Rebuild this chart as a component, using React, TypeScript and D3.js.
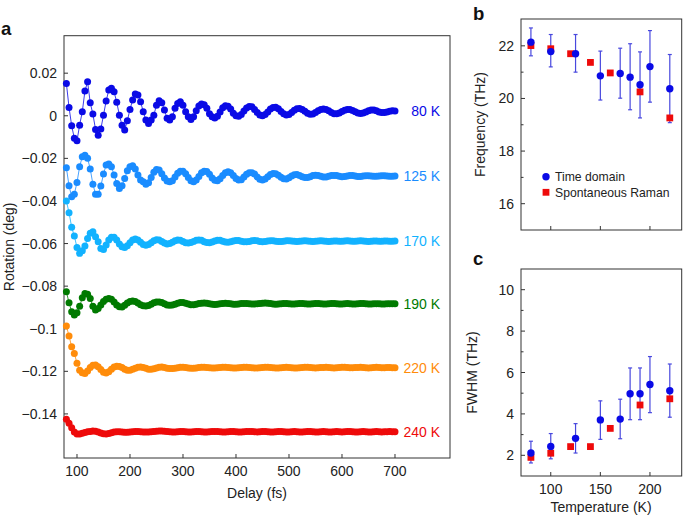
import React from 'react';
import * as d3 from 'd3';

// ---------- Panel a data: rotation (deg) vs delay (fs), sampled every 5 fs from 80 fs ----------
const delayStart = 80;
const delayStep = 5;

const rot80K = [
  0.0152, 0.0039, -0.0047, -0.0106, -0.0117, -0.0044, 0.0019, 0.0116, 0.016, 0.0061,
  0.0008, -0.0064, -0.0091, -0.0062, 0.0003, 0.0069, 0.0121, 0.0129, 0.0113, 0.0063,
  0.0003, -0.0044, -0.0067, -0.0023, 0.003, 0.0074, 0.0102, 0.0097, 0.0066, 0.0019,
  -0.002, -0.0036, -0.002, 0.0003, 0.005, 0.007, 0.0061, 0.0027, -0.0012, -0.002,
  -0.0005, 0.0035, 0.0058, 0.0066, 0.005, 0.0019, -0.0005, -0.0017, -0.0005, 0.0023,
  0.0046, 0.0055, 0.0052, 0.0035, 0.001, -0.0005, -0.001, -0.0002, 0.0018, 0.0038,
  0.0047, 0.0045, 0.0032, 0.0012, 0.0, -0.0002, 0.0006, 0.0022, 0.0036, 0.0043,
  0.0042, 0.003, 0.0015, 0.0004, 0.0, 0.0006, 0.0018, 0.0032, 0.0039, 0.004,
  0.0033, 0.002, 0.0009, 0.0004, 0.0006, 0.0015, 0.0026, 0.0033, 0.0034, 0.003,
  0.0021, 0.0012, 0.0007, 0.0008, 0.0015, 0.0024, 0.003, 0.0032, 0.003, 0.0023,
  0.0015, 0.001, 0.0009, 0.0013, 0.002, 0.0026, 0.0029, 0.0029, 0.0025, 0.0019,
  0.0013, 0.0011, 0.0013, 0.0018, 0.0024, 0.0027, 0.0027, 0.0023, 0.0018, 0.0015,
  0.0015, 0.0018, 0.0021, 0.0023, 0.0022,
];

const rot125K = [
  -0.0244, -0.0329, -0.038, -0.0368, -0.0313, -0.0239, -0.0192, -0.0185, -0.02, -0.025,
  -0.0321, -0.0368, -0.0368, -0.033, -0.0274, -0.0231, -0.0227, -0.0239, -0.0278, -0.0318,
  -0.0341, -0.0329, -0.0294, -0.0258, -0.0239, -0.0235, -0.025, -0.0278, -0.0302, -0.031,
  -0.0322, -0.0315, -0.029, -0.0265, -0.0252, -0.0255, -0.0272, -0.0292, -0.0306, -0.031,
  -0.0305, -0.0288, -0.027, -0.026, -0.026, -0.0272, -0.029, -0.0305, -0.031, -0.0302,
  -0.0285, -0.0268, -0.026, -0.0262, -0.0275, -0.0292, -0.0303, -0.0305, -0.0296, -0.028,
  -0.0268, -0.0263, -0.0268, -0.028, -0.0295, -0.0302, -0.03, -0.0288, -0.0275, -0.0268,
  -0.0267, -0.0274, -0.0287, -0.0298, -0.0302, -0.0297, -0.0286, -0.0276, -0.0271, -0.0272,
  -0.0279, -0.0289, -0.0296, -0.0297, -0.0291, -0.0283, -0.0277, -0.0276, -0.028, -0.0286,
  -0.029, -0.029, -0.0286, -0.0281, -0.0279, -0.028, -0.0284, -0.0287, -0.0287, -0.0284,
  -0.0281, -0.028, -0.0281, -0.0284, -0.0286, -0.0285, -0.0283, -0.0281, -0.0281, -0.0283,
  -0.0285, -0.0285, -0.0283, -0.0282, -0.0282, -0.0283, -0.0284, -0.0284, -0.0283, -0.0282,
  -0.0282, -0.0283, -0.0284, -0.0284, -0.0283,
];

const rot170K = [
  -0.04, -0.0455, -0.0524, -0.0565, -0.0618, -0.0646, -0.0634, -0.0612, -0.0576, -0.0552,
  -0.0545, -0.0568, -0.0592, -0.0623, -0.0628, -0.0607, -0.0583, -0.057, -0.057, -0.0583,
  -0.0602, -0.0615, -0.0618, -0.061, -0.0596, -0.0583, -0.0579, -0.0583, -0.0594, -0.0604,
  -0.0608, -0.0605, -0.0596, -0.0587, -0.0582, -0.0583, -0.059, -0.0598, -0.0602, -0.06,
  -0.0594, -0.0587, -0.0583, -0.0584, -0.059, -0.0596, -0.0598, -0.0595, -0.059, -0.0585,
  -0.0583, -0.0585, -0.0591, -0.0595, -0.0596, -0.0593, -0.0588, -0.0585, -0.0585, -0.0589,
  -0.0593, -0.0594, -0.0592, -0.0588, -0.0586, -0.0586, -0.0589, -0.0592, -0.0592, -0.059,
  -0.0587, -0.0586, -0.0587, -0.059, -0.0591, -0.059, -0.0588, -0.0587, -0.0587, -0.0589,
  -0.059, -0.059, -0.0589, -0.0587, -0.0587, -0.0588, -0.0589, -0.059, -0.0589, -0.0588,
  -0.0587, -0.0588, -0.0589, -0.059, -0.0589, -0.0588, -0.0587, -0.0588, -0.0589, -0.059,
  -0.0589, -0.0588, -0.0588, -0.0589, -0.0589, -0.0588, -0.0587, -0.0588, -0.0589, -0.0589,
  -0.0588, -0.0587, -0.0588, -0.0589, -0.059, -0.0589, -0.0588, -0.0588, -0.0589, -0.0589,
  -0.0588, -0.0588, -0.0589, -0.0589, -0.0588,
];

const rot190K = [
  -0.0826, -0.0878, -0.092, -0.0936, -0.0925, -0.0895, -0.0855, -0.0835, -0.0838, -0.0858,
  -0.0895, -0.0912, -0.0905, -0.0888, -0.0872, -0.0862, -0.0858, -0.0862, -0.0875, -0.0889,
  -0.0897, -0.0898, -0.089, -0.0879, -0.0872, -0.087, -0.0872, -0.0879, -0.0887, -0.0892,
  -0.0893, -0.0891, -0.0885, -0.0878, -0.0874, -0.0874, -0.0877, -0.0883, -0.0888, -0.089,
  -0.0889, -0.0885, -0.088, -0.0877, -0.0877, -0.088, -0.0884, -0.0887, -0.0887, -0.0885,
  -0.0882, -0.088, -0.0879, -0.088, -0.0883, -0.0885, -0.0886, -0.0885, -0.0883, -0.0881,
  -0.088, -0.0881, -0.0883, -0.0885, -0.0885, -0.0884, -0.0882, -0.0881, -0.0881, -0.0883,
  -0.0884, -0.0884, -0.0883, -0.0881, -0.088, -0.0879, -0.088, -0.0882, -0.0884, -0.0885,
  -0.0884, -0.0883, -0.0882, -0.0882, -0.0883, -0.0884, -0.0884, -0.0883, -0.0882, -0.0882,
  -0.0883, -0.0884, -0.0884, -0.0883, -0.0882, -0.0882, -0.0883, -0.0884, -0.0884, -0.0883,
  -0.0882, -0.0882, -0.0883, -0.0884, -0.0884, -0.0883, -0.0882, -0.0883, -0.0884, -0.0884,
  -0.0883, -0.0882, -0.0882, -0.0883, -0.0884, -0.0884, -0.0883, -0.0883, -0.0883, -0.0884,
  -0.0884, -0.0883, -0.0883, -0.0883, -0.0883,
];

const rot220K = [
  -0.0987, -0.1034, -0.1085, -0.1116, -0.1162, -0.1195, -0.1207, -0.121, -0.1198, -0.1182,
  -0.1172, -0.117, -0.1178, -0.1192, -0.1204, -0.1208, -0.1202, -0.119, -0.118, -0.1176,
  -0.1177, -0.1182, -0.119, -0.1195, -0.1195, -0.119, -0.1185, -0.1181, -0.118, -0.1182,
  -0.1186, -0.119, -0.119, -0.1188, -0.1184, -0.1181, -0.118, -0.1182, -0.1185, -0.1187,
  -0.1187, -0.1185, -0.1183, -0.1181, -0.1181, -0.1182, -0.1184, -0.1185, -0.1185, -0.1184,
  -0.1182, -0.1181, -0.1181, -0.1182, -0.1183, -0.1184, -0.1184, -0.1183, -0.1182, -0.1181,
  -0.1181, -0.1182, -0.1183, -0.1184, -0.1184, -0.1183, -0.1182, -0.1181, -0.1181, -0.1182,
  -0.1183, -0.1184, -0.1184, -0.1183, -0.1182, -0.1181, -0.1181, -0.1182, -0.1183, -0.1184,
  -0.1184, -0.1183, -0.1182, -0.1181, -0.1182, -0.1183, -0.1184, -0.1184, -0.1183, -0.1182,
  -0.1181, -0.1181, -0.1182, -0.1183, -0.1184, -0.1183, -0.1182, -0.1182, -0.1181, -0.1182,
  -0.1183, -0.1184, -0.1183, -0.1182, -0.1181, -0.1181, -0.1182, -0.1183, -0.1183, -0.1182,
  -0.1182, -0.1181, -0.1182, -0.1183, -0.1184, -0.1183, -0.1182, -0.1181, -0.1182, -0.1183,
  -0.1183, -0.1182, -0.1182, -0.1183, -0.1183,
];

const rot240K = [
  -0.1425, -0.1444, -0.1465, -0.1485, -0.1494, -0.1494, -0.1491, -0.1487, -0.1484, -0.1482,
  -0.148, -0.1481, -0.1485, -0.149, -0.1493, -0.1494, -0.1492, -0.1488, -0.1485, -0.1484,
  -0.1484, -0.1485, -0.1486, -0.1486, -0.1485, -0.1484, -0.1483, -0.1483, -0.1484, -0.1485,
  -0.1485, -0.1485, -0.1484, -0.1483, -0.1481, -0.148, -0.148, -0.1481, -0.1483, -0.1484,
  -0.1485, -0.1485, -0.1484, -0.1483, -0.1483, -0.1484, -0.1485, -0.1485, -0.1484, -0.1483,
  -0.1483, -0.1484, -0.1485, -0.1485, -0.1484, -0.1483, -0.1482, -0.1483, -0.1484, -0.1485,
  -0.1485, -0.1484, -0.1483, -0.1483, -0.1484, -0.1485, -0.1485, -0.1484, -0.1483, -0.1482,
  -0.1483, -0.1484, -0.1485, -0.1484, -0.1483, -0.1483, -0.1484, -0.1485, -0.1485, -0.1484,
  -0.1483, -0.1483, -0.1484, -0.1485, -0.1485, -0.1484, -0.1483, -0.1484, -0.1485, -0.1485,
  -0.1484, -0.1483, -0.1483, -0.1484, -0.1485, -0.1485, -0.1484, -0.1483, -0.1484, -0.1485,
  -0.1485, -0.1484, -0.1483, -0.1484, -0.1485, -0.1484, -0.1483, -0.1483, -0.1484, -0.1485,
  -0.1485, -0.1484, -0.1483, -0.1484, -0.1485, -0.1485, -0.1484, -0.1483, -0.1484, -0.1485,
  -0.1484, -0.1484, -0.1483, -0.1484, -0.1484,
];

const seriesLabels = ['80 K', '125 K', '170 K', '190 K', '220 K', '240 K'];
const seriesColors = ['#0a0ae6', '#1a8cff', '#12b2ff', '#007a00', '#ff8c0a', '#ee0a0a'];
const seriesValues = [rot80K, rot125K, rot170K, rot190K, rot220K, rot240K];

const delayTicks = [100, 200, 300, 400, 500, 600, 700];
const rotationTicks = [0.02, 0, -0.02, -0.04, -0.06, -0.08, -0.1, -0.12, -0.14];

// ---------- Panels b, c data ----------
const tempTD = [80, 100, 125, 150, 170, 180, 190, 200, 220];
const freqTD = [22.14, 21.78, 21.7, 20.86, 20.95, 20.81, 20.52, 21.21, 20.37];
const freqTDHi = [22.68, 22.43, 22.43, 21.8, 21.91, 22.08, 21.77, 22.58, 21.67];
const freqTDLo = [21.62, 21.2, 21.0, 19.94, 20.01, 19.57, 19.26, 19.86, 19.08];
const tempRaman = [80, 100, 120, 140, 160, 190, 220];
const freqRaman = [22.01, 21.89, 21.7, 21.37, 20.97, 20.25, 19.26];

const fwhmTD = [2.11, 2.43, 2.82, 3.71, 3.75, 4.97, 4.97, 5.42, 5.12];
const fwhmTDHi = [2.68, 3.05, 3.53, 4.63, 4.71, 6.22, 6.22, 6.77, 6.41];
const fwhmTDLo = [1.63, 1.83, 2.11, 2.77, 2.8, 3.72, 3.72, 4.06, 3.84];
const fwhmRaman = [1.9, 2.1, 2.42, 2.42, 3.3, 4.43, 4.73];

const tempTicks = [100, 150, 200];
const freqTicks = [16, 18, 20, 22];
const freqMinorTicks = [17, 19, 21];
const fwhmTicks = [2, 4, 6, 8, 10];
const fwhmMinorTicks = [3, 5, 7, 9];

const FONT = '"Liberation Sans", Arial, Helvetica, sans-serif';
const AXIS = '#333';
const TD_BLUE = '#0a0ae6';
const ERR_BLUE = '#4848de';
const RAMAN_RED = '#ee0a0a';

const fmtRot = (v: number) => (v === 0 ? '0' : (v < 0 ? '\u2212' : '') + String(Math.abs(v)));

export default function App() {
  // Panel a scales
  const ax = d3.scaleLinear().domain([75.5, 803.8]).range([64, 450]);
  const ay = d3.scaleLinear().domain([0.0376, -0.1607]).range([35.7, 458]);
  const line = d3
    .line<number>()
    .x((_, i) => ax(delayStart + i * delayStep))
    .y((v) => ay(v));

  // Panels b/c scales
  const tx = d3.scaleLinear().domain([70, 232]).range([521, 681.7]);
  const by = d3.scaleLinear().domain([15, 23.02]).range([230, 19]);
  const cy = d3.scaleLinear().domain([1, 11]).range([476, 269]);

  const errorBars = (ys: d3.ScaleLinear<number, number>, lo: number[], hi: number[]) =>
    tempTD.map((t, i) => (
      <g key={'e' + i} stroke={ERR_BLUE} strokeWidth={1.2}>
        <line x1={tx(t)} x2={tx(t)} y1={ys(lo[i])} y2={ys(hi[i])} />
        <line x1={tx(t) - 2} x2={tx(t) + 2} y1={ys(lo[i])} y2={ys(lo[i])} />
        <line x1={tx(t) - 2} x2={tx(t) + 2} y1={ys(hi[i])} y2={ys(hi[i])} />
      </g>
    ));

  const tdPoints = (ys: d3.ScaleLinear<number, number>, vals: number[]) =>
    tempTD.map((t, i) => <circle key={'c' + i} cx={tx(t)} cy={ys(vals[i])} r={3.7} fill={TD_BLUE} />);

  const ramanPoints = (ys: d3.ScaleLinear<number, number>, vals: number[]) =>
    tempRaman.map((t, i) => (
      <rect key={'r' + i} x={tx(t) - 3.4} y={ys(vals[i]) - 3.4} width={6.8} height={6.8} fill={RAMAN_RED} />
    ));

  const sidePanelFrame = (top: number, bottom: number) => (
    <g>
      <rect x={521} y={top} width={681.7 - 521} height={bottom - top} fill="none" stroke={AXIS} strokeWidth={1} />
      {tempTicks.map((t) => (
        <line key={'xt' + t} x1={tx(t)} x2={tx(t)} y1={bottom} y2={bottom - 4} stroke={AXIS} />
      ))}
    </g>
  );

  return (
    <svg
      width={685}
      height={519}
      style={{ position: 'absolute', left: 0, top: 0, background: '#fff' }}
      fontFamily={FONT}
    >
      <rect x={0} y={0} width={685} height={519} fill="#fff" />

      {/* ---------------- Panel a ---------------- */}
      <text x={1} y={35} fontSize={18.5} fontWeight="bold" fill="#111">a</text>
      <rect x={64} y={35.7} width={450 - 64} height={458 - 35.7} fill="none" stroke={AXIS} strokeWidth={1} />
      {delayTicks.map((t) => (
        <g key={'dt' + t}>
          <line x1={ax(t)} x2={ax(t)} y1={458} y2={454} stroke={AXIS} />
          <text x={ax(t)} y={476} fontSize={14} textAnchor="middle" fill="#222">{t}</text>
        </g>
      ))}
      {rotationTicks.map((v) => (
        <g key={'rt' + v}>
          <line x1={64} x2={68} y1={ay(v)} y2={ay(v)} stroke={AXIS} />
          <text x={57} y={ay(v) + 5} fontSize={14} textAnchor="end" fill="#222">{fmtRot(v)}</text>
        </g>
      ))}
      <text x={257} y={498} fontSize={14} textAnchor="middle" fill="#222">Delay (fs)</text>
      <text
        transform={`translate(14, ${(35.7 + 458) / 2}) rotate(-90)`}
        fontSize={14}
        textAnchor="middle"
        fill="#222"
      >
        Rotation (deg)
      </text>

      {seriesValues.map((vals, s) => (
        <g key={'s' + s}>
          <path d={line(vals) || ''} fill="none" stroke={seriesColors[s]} strokeWidth={0.8} />
          {vals.map((v, i) => (
            <circle key={i} cx={ax(delayStart + i * delayStep)} cy={ay(v)} r={3.5} fill={seriesColors[s]} />
          ))}
          <text
            x={440}
            y={ay(vals[vals.length - 1]) + 5}
            fontSize={14}
            textAnchor="end"
            fill={seriesColors[s]}
          >
            {seriesLabels[s]}
          </text>
        </g>
      ))}

      {/* ---------------- Panel b ---------------- */}
      <text x={473} y={20} fontSize={18.5} fontWeight="bold" fill="#111">b</text>
      {sidePanelFrame(19, 230)}
      {freqTicks.map((v) => (
        <g key={'ft' + v}>
          <line x1={521} x2={525} y1={by(v)} y2={by(v)} stroke={AXIS} />
          <text x={514} y={by(v) + 5} fontSize={14} textAnchor="end" fill="#222">{v}</text>
        </g>
      ))}
      {freqMinorTicks.map((v) => (
        <line key={'fm' + v} x1={521} x2={523.5} y1={by(v)} y2={by(v)} stroke={AXIS} />
      ))}
      <text
        transform={`translate(485, ${(19 + 230) / 2}) rotate(-90)`}
        fontSize={14}
        textAnchor="middle"
        fill="#222"
      >
        Frequency (THz)
      </text>
      {errorBars(by, freqTDLo, freqTDHi)}
      {ramanPoints(by, freqRaman)}
      {tdPoints(by, freqTD)}
      <circle cx={546} cy={176.7} r={3.7} fill={TD_BLUE} />
      <text x={555} y={181} fontSize={12.2} fill="#222">Time domain</text>
      <rect x={546 - 3.4} y={192.3 - 3.4} width={6.8} height={6.8} fill={RAMAN_RED} />
      <text x={555} y={196.5} fontSize={12.2} fill="#222">Spontaneous Raman</text>

      {/* ---------------- Panel c ---------------- */}
      <text x={473} y={265} fontSize={18.5} fontWeight="bold" fill="#111">c</text>
      {sidePanelFrame(269, 476)}
      {fwhmTicks.map((v) => (
        <g key={'wt' + v}>
          <line x1={521} x2={525} y1={cy(v)} y2={cy(v)} stroke={AXIS} />
          <text x={514} y={cy(v) + 5} fontSize={14} textAnchor="end" fill="#222">{v}</text>
        </g>
      ))}
      {fwhmMinorTicks.map((v) => (
        <line key={'wm' + v} x1={521} x2={523.5} y1={cy(v)} y2={cy(v)} stroke={AXIS} />
      ))}
      {tempTicks.map((t) => (
        <text key={'tl' + t} x={tx(t)} y={494} fontSize={14} textAnchor="middle" fill="#222">{t}</text>
      ))}
      <text x={601} y={512} fontSize={14} textAnchor="middle" fill="#222">Temperature (K)</text>
      <text
        transform={`translate(477, ${(269 + 476) / 2}) rotate(-90)`}
        fontSize={14}
        textAnchor="middle"
        fill="#222"
      >
        FWHM (THz)
      </text>
      {errorBars(cy, fwhmTDLo, fwhmTDHi)}
      {ramanPoints(cy, fwhmRaman)}
      {tdPoints(cy, fwhmTD)}
    </svg>
  );
}
